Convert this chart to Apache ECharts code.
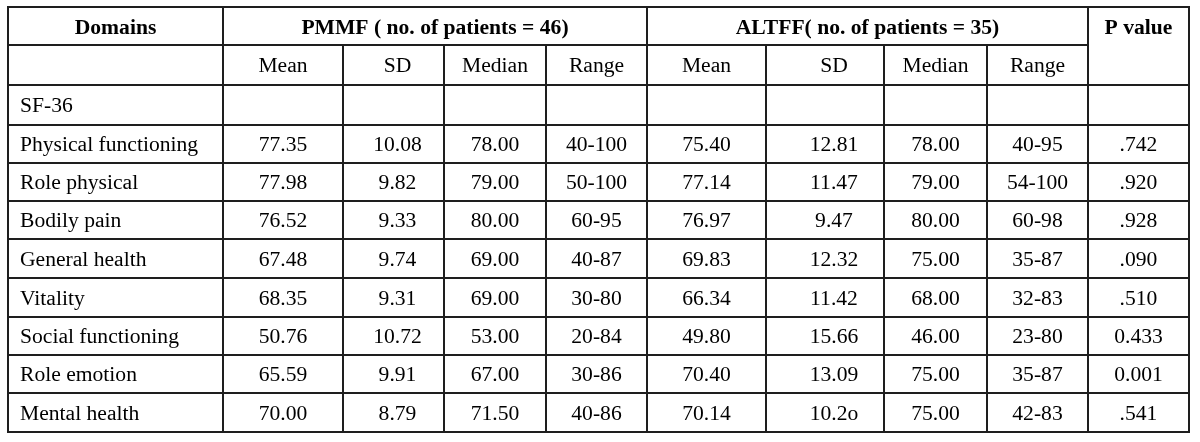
<!DOCTYPE html>
<html>
<head>
<meta charset="utf-8">
<script src="https://cdn.jsdelivr.net/npm/echarts@6/dist/echarts.min.js"></script>
<style>
html,body{margin:0;padding:0;background:#fff;}
#chart{width:1200px;height:442px;}
</style>
</head>
<body>
<div id="chart"></div>
<script>
// ---- data ----
const groupHeaders = ['PMMF ( no. of patients = 46)', 'ALTFF( no. of patients = 35)'];
const firstHeader = 'Domains';
const lastHeader = 'P value';
const subHeaders = ['Mean', 'SD', 'Median', 'Range'];
const sectionLabel = 'SF-36';
const domains = ['Physical functioning', 'Role physical', 'Bodily pain', 'General health', 'Vitality', 'Social functioning', 'Role emotion', 'Mental health'];
const pmmfMean   = ['77.35', '77.98', '76.52', '67.48', '68.35', '50.76', '65.59', '70.00'];
const pmmfSD     = ['10.08', '9.82', '9.33', '9.74', '9.31', '10.72', '9.91', '8.79'];
const pmmfMedian = ['78.00', '79.00', '80.00', '69.00', '69.00', '53.00', '67.00', '71.50'];
const pmmfRange  = ['40-100', '50-100', '60-95', '40-87', '30-80', '20-84', '30-86', '40-86'];
const altffMean   = ['75.40', '77.14', '76.97', '69.83', '66.34', '49.80', '70.40', '70.14'];
const altffSD     = ['12.81', '11.47', '9.47', '12.32', '11.42', '15.66', '13.09', '10.2o'];
const altffMedian = ['78.00', '79.00', '80.00', '75.00', '68.00', '46.00', '75.00', '75.00'];
const altffRange  = ['40-95', '54-100', '60-98', '35-87', '32-83', '23-80', '35-87', '42-83'];
const pValue      = ['.742', '.920', '.928', '.090', '.510', '0.433', '0.001', '.541'];

// ---- layout (axis units = pixels of the table frame) ----
const colEdges = [8, 223, 343, 444, 546, 647, 766, 884, 987, 1088, 1189];
const rowEdges = [7, 45, 85, 125, 163, 201, 239, 278, 317, 355, 393, 432];
const colTextShift = [0, 0, 4, 0, 0, 0, 9, 0, 0, 0];

// ---- build cells ----
const cells = [];
function addCell(c0, c1, r0, r1, text, opts) {
  cells.push(Object.assign({c0, c1, r0, r1, text}, opts || {}));
}
addCell(0, 1, 0, 1, firstHeader, {bold: true});
addCell(1, 5, 0, 1, groupHeaders[0], {bold: true});
addCell(5, 9, 0, 1, groupHeaders[1], {bold: true});
addCell(9, 10, 0, 2, lastHeader, {bold: true, textRow: 0});
addCell(0, 1, 1, 2, '');
for (let g = 0; g < 2; g++) {
  subHeaders.forEach((h, i) => addCell(1 + g * 4 + i, 2 + g * 4 + i, 1, 2, h));
}
for (let c = 0; c < 10; c++) addCell(c, c + 1, 2, 3, c === 0 ? sectionLabel : '', c === 0 ? {left: true} : {});
const columns = [pmmfMean, pmmfSD, pmmfMedian, pmmfRange, altffMean, altffSD, altffMedian, altffRange, pValue];
domains.forEach((d, i) => {
  const r = 3 + i;
  addCell(0, 1, r, r + 1, d, {left: true});
  columns.forEach((col, j) => addCell(1 + j, 2 + j, r, r + 1, col[i]));
});

const chart = echarts.init(document.getElementById('chart'), null, {renderer: 'canvas'});
chart.setOption({
  backgroundColor: '#ffffff',
  animation: false,
  grid: {left: 0, right: 0, top: 0, bottom: 0},
  xAxis: {type: 'value', min: 0, max: 1200, show: false},
  yAxis: {type: 'value', min: 0, max: 442, inverse: true, show: false},
  series: [{
    type: 'custom',
    coordinateSystem: 'cartesian2d',
    encode: {x: [0, 1], y: [2, 3]},
    data: cells.map(c => [colEdges[c.c0], colEdges[c.c1], rowEdges[c.r0], rowEdges[c.r1]]),
    renderItem: function (params, api) {
      const cell = cells[params.dataIndex];
      const p0 = api.coord([api.value(0), api.value(2)]);
      const p1 = api.coord([api.value(1), api.value(3)]);
      const children = [{
        type: 'rect',
        shape: {x: p0[0], y: p0[1], width: p1[0] - p0[0], height: p1[1] - p0[1]},
        style: {fill: '#ffffff', stroke: '#1e1e1e', lineWidth: 2}
      }];
      if (cell.text) {
        let ty;
        if (cell.textRow !== undefined) {
          const a = api.coord([0, rowEdges[cell.textRow]])[1];
          const b = api.coord([0, rowEdges[cell.textRow + 1]])[1];
          ty = (a + b) / 2;
        } else {
          ty = (p0[1] + p1[1]) / 2;
        }
        const shift = (cell.c1 - cell.c0 === 1 && cell.r0 >= 1) ? colTextShift[cell.c0] : 0;
        children.push({
          type: 'text',
          style: {
            text: cell.text,
            x: cell.left ? p0[0] + 12 : (p0[0] + p1[0]) / 2 + shift,
            y: ty + (cell.r0 === 0 ? 2 : 1.5),
            align: cell.left ? 'left' : 'center',
            verticalAlign: 'middle',
            fill: '#000000',
            fontFamily: '"Liberation Serif", "Times New Roman", serif',
            fontSize: 21.6,
            fontWeight: cell.bold ? 'bold' : 'normal'
          }
        });
      }
      return {type: 'group', children: children};
    }
  }]
});
</script>
</body>
</html>
